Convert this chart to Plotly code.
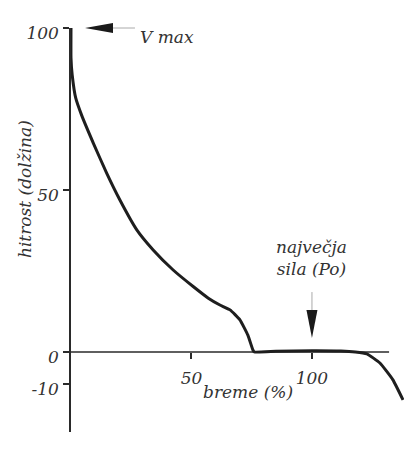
import plotly.graph_objects as go

# Force-velocity curve (schematic)
breme = [0, 0, 0.5, 1.95, 4.4, 9.3, 14.8, 20.3, 27.3, 34.1, 42.4, 50.7, 57.0, 61.8,
         66.0, 70.1, 73.4, 75.5, 76.1, 85, 100, 112, 118, 122.8, 128.2, 133.6, 137.8]
hitrost = [100, 90.7, 85.5, 78.4, 73.1, 64.4, 55.2, 46.9, 37.7, 31.5, 25.3, 20.2, 16.6, 14.5,
           13.0, 9.9, 5.2, 0.6, 0, 0.2, 0.4, 0.3, 0, -0.6, -3.4, -8.6, -14.8]

y_ticks = [-10, 0, 50, 100]
y_ticktext = ["-10", "0", "50", "100"]
x_ticks = [50, 100]
x_ticktext = ["50", "100"]

# annotated points
vmax_point = (5.8, 100)
po_point = (100, 4.3)

FONT = "DejaVu Serif"
FS = 17
INK = "#2a2a2a"

X_RANGE = [0, 138.2]
Y_RANGE = [-24.7, 100]


def it(s):
    return "<i>" + s + "</i>"


def xpaper(v):
    return (v - X_RANGE[0]) / (X_RANGE[1] - X_RANGE[0])


def ypaper(v):
    return (v - Y_RANGE[0]) / (Y_RANGE[1] - Y_RANGE[0])


fig = go.Figure()
fig.add_trace(go.Scatter(
    x=breme, y=hitrost, mode="lines",
    line=dict(color="#1e1e1e", width=3, shape="spline", smoothing=0.4),
    cliponaxis=False, hoverinfo="skip", showlegend=False,
))

# horizontal axis line at zero (ends before the right edge as in the original)
fig.add_shape(type="line", xref="x", yref="y", x0=0, x1=132, y0=0, y1=0,
              line=dict(color=INK, width=1.5), layer="below")

tickfont = dict(family=FONT, size=FS, color="#333")

fig.update_layout(
    width=404, height=451,
    margin=dict(l=71, r=0, t=28, b=19),
    paper_bgcolor="white", plot_bgcolor="white",
    font=dict(family=FONT, size=FS),
    xaxis=dict(range=X_RANGE, anchor="free", position=ypaper(0),
               showline=False, showgrid=False, zeroline=False,
               tickvals=x_ticks, ticktext=[it(t) for t in x_ticktext], ticks="outside", ticklen=6,
               tickwidth=1.5, tickcolor=INK, tickfont=tickfont, ticklabelstandoff=5),
    yaxis=dict(range=Y_RANGE, showline=True, linecolor=INK, linewidth=1.5,
               showgrid=False, zeroline=False,
               tickvals=y_ticks, ticktext=[it(t) for t in y_ticktext], ticks="outside", ticklen=6,
               tickwidth=1.5, tickcolor=INK, tickfont=tickfont, ticklabelshift=5,
               ticklabelstandoff=1),
)

annfont = dict(family=FONT, size=FS, color="#333")

# V max arrow: long narrow filled head plus thin grey shaft (pixel-sized, paper-anchored so it is not clipped)
fig.add_shape(type="path", xref="paper", yref="paper", xsizemode="pixel", ysizemode="pixel",
              xanchor=xpaper(vmax_point[0]), yanchor=ypaper(vmax_point[1]),
              path="M0,0 L28,5 L28,-5 Z", fillcolor="#1a1a1a", line=dict(width=0))
fig.add_shape(type="path", xref="paper", yref="paper", xsizemode="pixel", ysizemode="pixel",
              xanchor=xpaper(vmax_point[0]), yanchor=ypaper(vmax_point[1]),
              path="M28,0 L50,0", line=dict(color="#aaa", width=1))
fig.add_annotation(x=39.8, y=97.2, xref="x", yref="y", text=it("V max"), showarrow=False,
                   font=annfont, xanchor="center", yanchor="middle")

# Po arrow
fig.add_shape(type="path", xref="x", yref="y", xsizemode="pixel", ysizemode="pixel",
              xanchor=po_point[0], yanchor=po_point[1],
              path="M0,0 L-5.5,28 L5.5,28 Z", fillcolor="#1a1a1a", line=dict(width=0))
fig.add_shape(type="path", xref="x", yref="y", xsizemode="pixel", ysizemode="pixel",
              xanchor=po_point[0], yanchor=po_point[1],
              path="M0,28 L0,46", line=dict(color="#aaa", width=1))
fig.add_annotation(x=100, y=29, xref="x", yref="y", text=it("največja<br>sila (Po)"),
                   showarrow=False, font=annfont, xanchor="center", yanchor="middle")

# axis titles
fig.add_annotation(x=73.4, y=-12.3, xref="x", yref="y", text=it("breme (%)"),
                   showarrow=False, font=annfont, xanchor="center", yanchor="middle")
fig.add_annotation(x=(25 - 71) / 333, y=50.3, xref="paper", yref="y",
                   text=it("hitrost (dolžina)"), textangle=-90, showarrow=False,
                   font=annfont, xanchor="center", yanchor="middle")

fig.write_html("out.html")
